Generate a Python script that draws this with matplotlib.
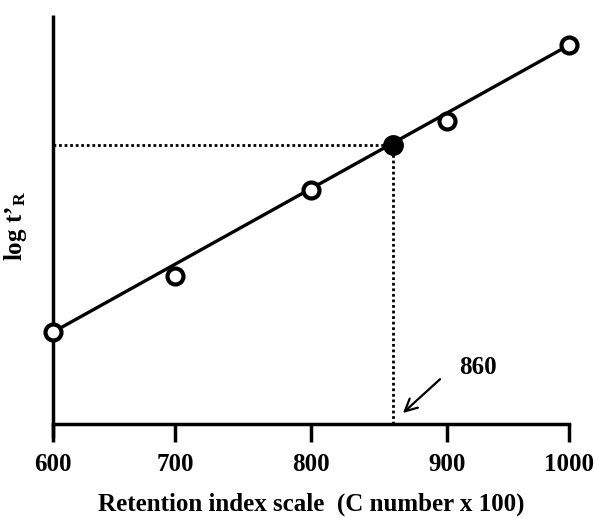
import numpy as np
import matplotlib
matplotlib.use("Agg")
import matplotlib.pyplot as plt

# ---- data ----
ri_points = [600, 700, 800, 900, 1000]          # n-alkane retention indices
logt_points = [1.000, 1.195, 1.495, 1.736, 2.000]
unknown_ri = 860
unknown_logt = 1.652
fit_x = [600, 1000]
fit_y = [1.000, 2.000]
xticks = [600, 700, 800, 900, 1000]
xtick_labels = ["600", "700", "800", "900", "1000"]
# tick positions on the (non-uniform) printed axis, relative units
tick_positions = [0, 122, 258, 394, 516]

plt.rcParams['font.family'] = ['Liberation Serif', 'DejaVu Serif']
plt.rcParams['font.weight'] = 'bold'
plt.rcParams['mathtext.fontset'] = 'custom'
plt.rcParams['mathtext.rm'] = 'Liberation Serif:bold'
plt.rcParams['mathtext.it'] = 'Liberation Serif:bold'

fig = plt.figure(figsize=(5.95, 5.18), dpi=100)
W, H = 595, 518
ax = fig.add_axes([53 / W, (H - 438) / H, (569 - 53) / W, (438 - 15) / H])

fwd = lambda x: np.interp(x, xticks, tick_positions)
inv = lambda p: np.interp(p, tick_positions, xticks)
ax.set_xscale('function', functions=(fwd, inv))
ax.set_xlim(600, 1000)
ax.set_ylim(0.631, 2.105)

for s in ['top', 'right']:
    ax.spines[s].set_visible(False)
ax.spines['left'].set_linewidth(2.5)
ax.spines['bottom'].set_linewidth(2.5)
ax.spines['bottom'].set_position(('data', 0.679))
ax.spines['left'].set_capstyle('butt')

ax.set_xticks(xticks)
ax.set_xticklabels(xtick_labels)
ax.set_yticks([])
ax.tick_params(axis='x', direction='out', length=13, width=2.5, pad=8,
               labelsize=18)
for lab in ax.get_xticklabels():
    lab.set_fontweight('bold')

# dotted guide lines
ax.plot([600, unknown_ri], [unknown_logt, unknown_logt], color='black',
        linewidth=2.0, linestyle=(0, (1, 1)), dash_capstyle='butt', zorder=2)
ax.plot([unknown_ri, unknown_ri], [0.679, unknown_logt], color='black',
        linewidth=2.0, linestyle=(0, (1, 1)), dash_capstyle='butt', zorder=2)

# regression line
ax.plot(fit_x, fit_y, color='black', linewidth=2.4, zorder=3, clip_on=False)

# points
ax.plot(ri_points, logt_points, linestyle='none', marker='o', markersize=11.5,
        markerfacecolor='white', markeredgecolor='black', markeredgewidth=3,
        zorder=4, clip_on=False)
ax.plot([unknown_ri], [unknown_logt], linestyle='none', marker='o',
        markersize=14, markerfacecolor='black', markeredgecolor='black',
        zorder=5, clip_on=False)

# annotation
ax.annotate('', xy=(867.6, 0.718), xytext=(894.9, 0.836),
            arrowprops=dict(arrowstyle='->', color='black', lw=1.6,
                            mutation_scale=22, shrinkA=0, shrinkB=0))
ax.text(925.4, 0.878, '860', ha='center', va='center', fontsize=18,
        fontweight='bold')

ax.set_xlabel('Retention index scale  (C number x 100)', fontsize=18,
              fontweight='bold')
ax.xaxis.set_label_coords(0.5, -55 / (438 - 15))
ax.set_ylabel("log t\u2019$_\\mathrm{R}$", fontsize=18, fontweight='bold')
ax.yaxis.set_label_coords(-24 / (569 - 53), 0.5)

fig.savefig('out.png', dpi=100)
